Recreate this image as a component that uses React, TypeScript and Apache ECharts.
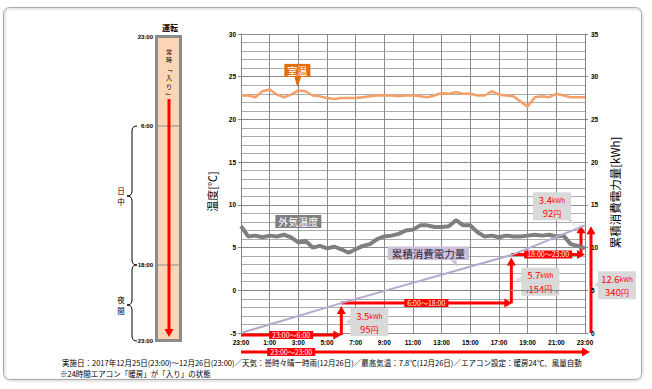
import React, { useEffect, useRef } from "react";
import * as echarts from "echarts";

const FONT = '"Noto Sans CJK JP", "Liberation Sans", sans-serif';

// ---- data ----
const hours = [0, 0.5, 1, 1.5, 2, 2.5, 3, 3.5, 4, 4.5, 5, 5.5, 6, 6.5, 7, 7.5, 8, 8.5, 9, 9.5, 10, 10.5, 11, 11.5, 12, 12.5, 13, 13.5, 14, 14.5, 15, 15.5, 16, 16.5, 17, 17.5, 18, 18.5, 19, 19.5, 20, 20.5, 21, 21.5, 22, 22.5, 23, 23.5, 24];
const roomTemp = [22.8, 22.8, 22.6, 23.3, 23.5, 22.9, 22.6, 22.9, 23.4, 23.3, 22.8, 22.7, 22.5, 22.4, 22.5, 22.5, 22.5, 22.6, 22.7, 22.8, 22.8, 22.8, 22.7, 22.8, 22.8, 22.7, 22.6, 22.8, 23.1, 23.0, 23.2, 23.0, 23.0, 22.8, 22.8, 23.3, 22.9, 22.8, 22.7, 22.1, 21.5, 22.6, 22.7, 22.6, 23.0, 22.8, 22.6, 22.6, 22.6];
const outdoorTemp = [7.5, 6.3, 6.4, 6.2, 6.4, 6.3, 6.5, 6.2, 5.6, 5.8, 5.0, 5.2, 4.9, 5.1, 4.8, 4.4, 4.8, 5.2, 5.4, 6.0, 6.3, 6.4, 6.6, 7.0, 7.1, 7.6, 7.6, 7.4, 7.4, 7.5, 8.2, 7.6, 7.6, 6.8, 6.3, 6.4, 6.2, 6.4, 6.3, 6.3, 6.4, 6.5, 6.4, 6.5, 6.3, 6.4, 5.4, 5.2, 4.9];
const cumHours = [0, 7, 19, 24];
const cumKWh = [0, 3.5, 9.2, 12.6];
const segKWh = [3.5, 5.7, 3.4];
const segYen = [95, 154, 92];
const totalKWh = 12.6;
const totalYen = 340;
const periodLabels = ["23:00～6:00", "6:00～18:00", "18:00～23:00"];
const totalPeriodLabel = "23:00～23:00";
const xTickLabels = ["23:00", "1:00", "3:00", "5:00", "7:00", "9:00", "11:00", "13:00", "15:00", "17:00", "19:00", "21:00", "23:00"];
const scheduleTimes = ["23:00", "6:00", "18:00", "23:00"];
const scheduleNote = ["常", "時", "﹁", "入", "り", "﹂"];
const periodNames = [["日", "中"], ["夜", "間"]];
const seriesNames = ["室温", "外気温度", "累積消費電力量"];
const footerLine1 = "実施日：2017年12月25日(23:00)～12月26日(23:00)／天気：曇時々晴一時雨(12月26日)／最高気温：7.8℃(12月26日)／エアコン設定：暖房24℃、風量自動";
const footerLine2 = "※24時間エアコン「暖房」が「入り」の状態";

echarts.graphic.registerShape(
  "brace1",
  echarts.graphic.extendPath("M137 126 Q132 126 132 131 L132 191 Q132 196 127 196 Q132 196 132 201 L132 260 Q132 265 137 265", {})
);
echarts.graphic.registerShape(
  "brace2",
  echarts.graphic.extendPath("M137 265 Q132 265 132 270 L132 300 Q132 305 127 305 Q132 305 132 310 L132 336 Q132 341 137 341", {})
);

const RED = "#FF0000";

function buildGraphics(chart: any) {
  const P = (h: number, v: number, ax: number) =>
    chart.convertToPixel({ xAxisIndex: 0, yAxisIndex: ax }, [h, v]) as number[];
  const g: any[] = [];
  const line = (x1: number, y1: number, x2: number, y2: number, w = 3, c = RED) =>
    g.push({ type: "line", shape: { x1, y1, x2, y2 }, style: { stroke: c, lineWidth: w } });
  const arrow = (x1: number, y1: number, x2: number, y2: number) => {
    const dx = x2 - x1, dy = y2 - y1, L = Math.hypot(dx, dy);
    const ux = dx / L, uy = dy / L;
    const hl = 8, hw = 4.5;
    const bx = x2 - ux * hl, by = y2 - uy * hl;
    line(x1, y1, bx + ux, by + uy);
    g.push({
      type: "polygon",
      shape: { points: [[x2, y2], [bx - uy * hw, by + ux * hw], [bx + uy * hw, by - ux * hw]] },
      style: { fill: RED },
    });
  };
  const redLabel = (text: string, x: number, y: number) =>
    g.push({
      type: "text",
      x, y,
      style: {
        text, align: "center", verticalAlign: "middle", fill: "#fff", backgroundColor: RED,
        fontSize: 7, fontFamily: FONT, padding: [1, 3, 0, 3],
      },
    });
  const callout = (cx: number, cy: number, kwh: number, yen: number, tail: number[][]) => {
    g.push({ type: "polygon", shape: { points: tail }, style: { fill: "#D9D9D9" } });
    g.push({ type: "rect", shape: { x: cx - 19, y: cy - 14, width: 38, height: 28 }, style: { fill: "#D9D9D9" } });
    g.push({
      type: "text", x: cx, y: cy - 6.5,
      style: {
        text: `{a|${kwh}}{b|kWh}`, align: "center", verticalAlign: "middle",
        rich: {
          a: { fontSize: 9.5, fill: RED, fontFamily: FONT },
          b: { fontSize: 6.5, fill: RED, fontFamily: FONT },
        },
      },
    });
    g.push({
      type: "text", x: cx, y: cy + 7,
      style: {
        text: `{a|${yen}}{c|円}`, align: "center", verticalAlign: "middle",
        rich: {
          a: { fontSize: 9.5, fill: RED, fontFamily: FONT },
          c: { fontSize: 8, fill: RED, fontFamily: FONT },
        },
      },
    });
  };

  // frame
  g.push({
    type: "rect",
    shape: { x: 3.5, y: 7.5, width: 638, height: 372, r: 6 },
    style: { fill: "none", stroke: "#ABABAB", lineWidth: 1, shadowBlur: 2, shadowOffsetX: 1, shadowOffsetY: 1, shadowColor: "rgba(0,0,0,0.3)" },
  });

  // ---- left schedule panel ----
  g.push({ type: "text", style: { text: "運転", x: 170, y: 27, align: "center", verticalAlign: "middle", fontSize: 8, fontWeight: "bold", fontFamily: FONT, fill: "#000" } });
  g.push({ type: "rect", shape: { x: 156.5, y: 36.5, width: 24, height: 304 }, style: { fill: "#FCD5B4", stroke: "#8C8C8C", lineWidth: 3 } });
  const schedY = [37, 126, 265, 341];
  line(158, 126, 179, 126, 1, "#8C8C8C");
  line(158, 265, 179, 265, 1, "#8C8C8C");
  scheduleTimes.forEach((t, i) =>
    g.push({ type: "text", style: { text: t, x: 153, y: schedY[i], align: "right", verticalAlign: "middle", fontSize: 6, fontWeight: "bold", fontFamily: '"Liberation Sans", sans-serif', fill: "#000" } })
  );
  scheduleNote.forEach((c, i) =>
    g.push({ type: "text", style: { text: c, x: 169, y: 51 + i * 8.8, align: "center", verticalAlign: "middle", fontSize: 6, fontFamily: FONT, fill: "#000" } })
  );
  arrow(169, 99, 169, 337);
  g.push({ type: "brace1", style: { fill: "none", stroke: "#000", lineWidth: 1 } });
  g.push({ type: "brace2", style: { fill: "none", stroke: "#000", lineWidth: 1 } });
  const periodY = [196, 305];
  periodNames.forEach((chars, k) =>
    chars.forEach((c, j) =>
      g.push({ type: "text", style: { text: c, x: 121, y: periodY[k] - 5.5 + j * 11, align: "center", verticalAlign: "middle", fontSize: 7.5, fontFamily: FONT, fill: "#000" } })
    )
  );

  // ---- series labels ----
  const roomAnchor = P(hours[8], roomTemp[8], 0);
  g.push({ type: "polygon", shape: { points: [[roomAnchor[0] - 4, roomAnchor[1] - 14], [roomAnchor[0] + 3, roomAnchor[1] - 14], [roomAnchor[0] - 1, roomAnchor[1] - 3]] }, style: { fill: "#E46C0A" } });
  g.push({ type: "text", x: roomAnchor[0] - 1, y: roomAnchor[1] - 20, style: { text: seriesNames[0], align: "center", verticalAlign: "middle", fill: "#fff", backgroundColor: "#E46C0A", padding: [2, 3, 1, 3], fontSize: 10, fontFamily: FONT } });
  const outAnchor = P(hours[8], outdoorTemp[8], 0);
  g.push({ type: "text", x: outAnchor[0], y: outAnchor[1] - 21, style: { text: seriesNames[1], align: "center", verticalAlign: "middle", fill: "#fff", backgroundColor: "#7F7F7F", padding: [2, 3, 1, 3], fontSize: 10, fontFamily: FONT } });
  const cumAnchor = P(15.1, 7.35, 1);
  g.push({ type: "polygon", shape: { points: [[cumAnchor[0] - 7, cumAnchor[1] - 10], [cumAnchor[0] - 1, cumAnchor[1] - 10], [cumAnchor[0], cumAnchor[1] - 3]] }, style: { fill: "#CCC0DA" } });
  g.push({ type: "text", x: cumAnchor[0] - 29, y: cumAnchor[1] - 17, style: { text: seriesNames[2], align: "center", verticalAlign: "middle", fill: "#1F1F3A", backgroundColor: "#CCC0DA", padding: [2, 4, 1, 4], fontSize: 10.5, fontFamily: FONT } });

  // ---- arrows ----
  const [x0, yZero] = P(cumHours[0], cumKWh[0], 1);
  const x7 = P(cumHours[1], 0, 1)[0];
  const x19 = P(cumHours[2], 0, 1)[0] - 2;
  const x24 = P(cumHours[3], 0, 1)[0];
  const yB = yZero + 2;
  const yL1 = P(0, cumKWh[1], 1)[1];
  const yL2 = P(0, cumKWh[2], 1)[1];
  const yL3 = P(0, cumKWh[3], 1)[1];

  arrow(x0, yB, x7, yB);
  arrow(x7, yB, x7, yL1 + 3);
  arrow(x7, yL1, x19 + 1, yL1);
  arrow(x19, yL1, x19, yL2 + 3);
  arrow(x19, yL2, x24, yL2);
  arrow(x24 - 4, yL2, x24 - 4, yL3);
  arrow(x24 + 6, yZero, x24 + 6, yL3 + 1);
  const yTot = yZero + 19;
  arrow(x0, yTot, x24 + 5, yTot);

  redLabel(periodLabels[0], (x0 + x7) / 2, yB);
  redLabel(periodLabels[1], (x7 + x19) / 2, yL1);
  redLabel(periodLabels[2], (x19 + x24) / 2, yL2);
  redLabel(totalPeriodLabel, (x0 + x7) / 2, yTot);

  // callouts
  const c1y = (yB + yL1) / 2 + 3;
  callout(x7 + 28, c1y, segKWh[0], segYen[0], [[x7 + 11, c1y - 5], [x7 + 11, c1y + 3], [x7 + 4, c1y]]);
  const c2y = (yL1 + yL2) / 2 + 3;
  callout(x19 + 29, c2y, segKWh[1], segYen[1], [[x19 + 12, c2y - 6], [x19 + 12, c2y + 2], [x19 + 4, c2y - 2]]);
  const c3y = yL3 - 19;
  callout(x24 - 33, c3y, segKWh[2], segYen[2], [[x24 - 22, c3y + 9], [x24 - 16, c3y + 9], [x24 - 9, yL3 + 2]]);
  const c4y = (yZero + yL3) / 2 + 6;
  callout(x24 + 32, c4y, totalKWh, totalYen, [[x24 + 15, c4y - 5], [x24 + 15, c4y + 3], [x24 + 9, c4y]]);

  // footer
  g.push({ type: "text", style: { text: footerLine1, x: 62, y: 362, verticalAlign: "middle", fontSize: 7.5, fontFamily: FONT, fill: "#000" } });
  g.push({ type: "text", style: { text: footerLine2, x: 60, y: 373, verticalAlign: "middle", fontSize: 7.5, fontFamily: FONT, fill: "#000" } });

  return g;
}

export default function App() {
  const ref = useRef<HTMLDivElement>(null);
  useEffect(() => {
    if (!ref.current) return;
    const chart = echarts.init(ref.current, undefined, { renderer: "svg" });
    const axisFont = { fontSize: 6.5, fontWeight: "bold" as const, color: "#000", fontFamily: '"Liberation Sans", sans-serif' };
    chart.setOption({
      animation: false,
      backgroundColor: "#fff",
      grid: { left: 241, right: 67, top: 34, bottom: 56, containLabel: false },
      xAxis: {
        type: "value", min: 0, max: 24, interval: 2,
        axisLine: { show: true, lineStyle: { color: "#868686" } },
        axisTick: { show: true, length: 3, lineStyle: { color: "#868686" } },
        axisLabel: { ...axisFont, margin: 6, formatter: (v: number) => xTickLabels[Math.round(v / 2)] },
        splitLine: { show: true, lineStyle: { color: "#8C8C8C", width: 1 } },
      },
      yAxis: [
        {
          type: "value", min: -5, max: 30, interval: 5, position: "left",
          name: "温度[℃]", nameLocation: "middle", nameRotate: 90, nameGap: 13,
          nameTextStyle: { fontSize: 11, color: "#000", fontFamily: FONT, padding: [0, 16, 0, 0] },
          axisLine: { show: true, lineStyle: { color: "#868686" } },
          axisTick: { show: true, length: 3, lineStyle: { color: "#868686" } },
          axisLabel: { ...axisFont, margin: 5 },
          splitLine: { show: true, lineStyle: { color: "#8C8C8C", width: 1 } },
          minorTick: { show: false, splitNumber: 5 },
          minorSplitLine: { show: true, lineStyle: { color: "#ABABAB", width: 1 } },
        },
        {
          type: "value", min: 0, max: 35, interval: 5, position: "right",
          name: "累積消費電力量[kWh]", nameLocation: "middle", nameRotate: 90, nameGap: 11,
          nameTextStyle: { fontSize: 11.5, color: "#000", fontFamily: FONT, padding: [0, 18, 0, 0] },
          axisLine: { show: true, lineStyle: { color: "#868686" } },
          axisTick: { show: true, length: 3, lineStyle: { color: "#868686" } },
          axisLabel: { ...axisFont, margin: 6 },
          splitLine: { show: false },
        },
      ],
      series: [
        {
          name: seriesNames[1], type: "line", yAxisIndex: 0, showSymbol: false,
          data: hours.map((h, i) => [h, outdoorTemp[i]]),
          lineStyle: { color: "#7F7F7F", width: 4 }, itemStyle: { color: "#7F7F7F" },
        },
        {
          name: seriesNames[0], type: "line", yAxisIndex: 0, showSymbol: false,
          data: hours.map((h, i) => [h, roomTemp[i]]),
          lineStyle: { color: "#F5A06A", width: 2.5 }, itemStyle: { color: "#F5A06A" },
        },
        {
          name: seriesNames[2], type: "line", yAxisIndex: 1, showSymbol: false,
          data: cumHours.map((h, i) => [h, cumKWh[i]]),
          lineStyle: { color: "#B4A9CC", width: 2 }, itemStyle: { color: "#B4A9CC" },
        },
      ],
    });
    chart.setOption({ graphic: buildGraphics(chart) });
    return () => chart.dispose();
  }, []);
  return <div ref={ref} style={{ position: "absolute", left: 0, top: 0, width: 652, height: 389, background: "#fff" }} />;
}
